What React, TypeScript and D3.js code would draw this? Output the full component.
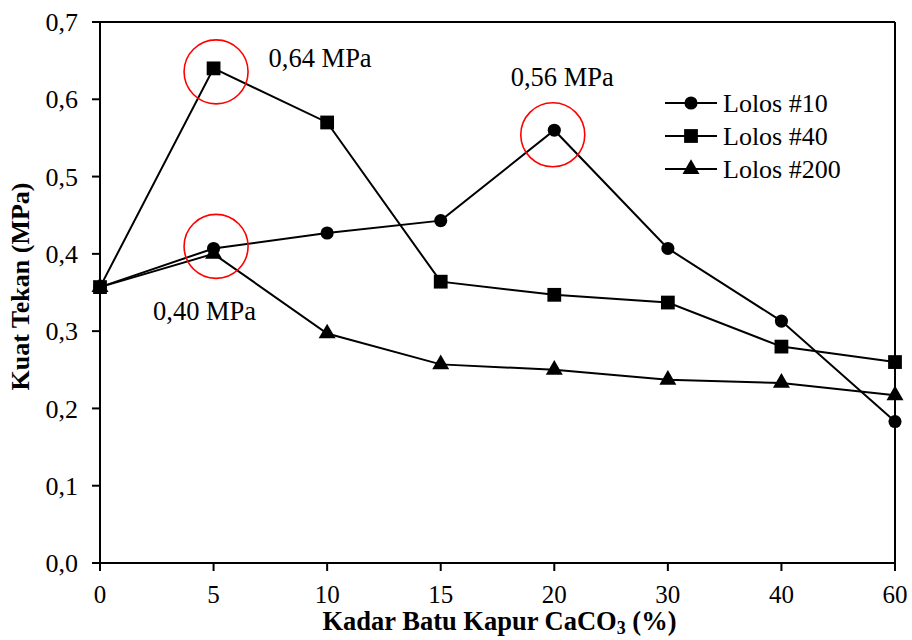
import React, { useEffect } from "react";
import * as d3 from "d3";

// kadar batu kapur (%) - categorical axis, evenly spaced
const categories = ["0", "5", "10", "15", "20", "30", "40", "60"];
const lolos10 = [0.357, 0.407, 0.427, 0.443, 0.56, 0.407, 0.313, 0.183];
const lolos40 = [0.357, 0.64, 0.57, 0.364, 0.347, 0.337, 0.28, 0.26];
const lolos200 = [0.357, 0.4, 0.297, 0.257, 0.25, 0.237, 0.233, 0.217];
const yTicks = [0, 0.1, 0.2, 0.3, 0.4, 0.5, 0.6, 0.7];
const seriesNames = ["Lolos #10", "Lolos #40", "Lolos #200"];
// highlighted peaks: category, value, label
const peakCats = ["5", "20", "5"];
const peakVals = [0.64, 0.56, 0.4];
const peakLabels = ["0,64 MPa", "0,56 MPa", "0,40 MPa"];

const W = 912, H = 640;
const margin = { top: 22, right: 17, bottom: 77, left: 100 };
const font = "'Liberation Serif', 'Times New Roman', serif";

export default function App() {
  useEffect(() => {
    document.body.style.margin = "0";
  }, []);

  const innerW = W - margin.left - margin.right;
  const innerH = H - margin.top - margin.bottom;
  const x = d3.scalePoint().domain(categories).range([0, innerW]).padding(0);
  const y = d3.scaleLinear().domain([0, 0.7]).range([innerH, 0]);

  const series = [
    { name: seriesNames[0], vals: lolos10, sym: d3.symbolCircle, size: 135 },
    { name: seriesNames[1], vals: lolos40, sym: d3.symbolSquare, size: 190 },
    { name: seriesNames[2], vals: lolos200, sym: d3.symbolTriangle, size: 125 },
  ];

  const line = d3.line<number>()
    .x((d, i) => x(categories[i]) as number)
    .y((d) => y(d));

  // offsets of the labels / circles from the highlighted point
  const labelOff = [[55, -1, "start"], [8, -44, "middle"], [-9, 66, "middle"]];
  const ringOff = [[2.5, 3.5], [-1.5, 4.5], [2.5, -7.5]];

  return (
    <svg width={W} height={H} style={{ display: "block", background: "#fff" }} fontFamily={font}>
      <g transform={`translate(${margin.left},${margin.top})`}>
        {/* frame */}
        <line x1={0} x2={innerW} y1={0} y2={0} stroke="#000" strokeWidth={2} />
        <line x1={innerW} x2={innerW} y1={0} y2={innerH} stroke="#000" strokeWidth={2} />
        <line x1={0} x2={0} y1={0} y2={innerH} stroke="#000" strokeWidth={2} />
        <line x1={0} x2={innerW} y1={innerH} y2={innerH} stroke="#000" strokeWidth={2} />

        {/* y axis */}
        {yTicks.map((t) => (
          <g key={t} transform={`translate(0,${y(t)})`}>
            <line x1={-8} x2={0} stroke="#000" strokeWidth={2} />
            <text x={-22} dy="0.35em" textAnchor="end" fontSize={26}>
              {t.toFixed(1).replace(".", ",")}
            </text>
          </g>
        ))}

        {/* x axis */}
        {categories.map((c) => (
          <g key={c} transform={`translate(${x(c)},${innerH})`}>
            <line y1={0} y2={8} stroke="#000" strokeWidth={2} />
            <text y={40} textAnchor="middle" fontSize={25}>{c}</text>
          </g>
        ))}

        {/* series */}
        {series.map((s) => (
          <g key={s.name}>
            <path d={line(s.vals) as string} fill="none" stroke="#000" strokeWidth={2} />
            {s.vals.map((v, i) => (
              <path key={i}
                transform={`translate(${x(categories[i])},${y(v)})`}
                d={d3.symbol(s.sym, s.size)() as string}
                fill="#000" />
            ))}
          </g>
        ))}

        {/* peak highlights */}
        {peakVals.map((v, i) => {
          const px = x(peakCats[i]) as number;
          const py = y(v);
          return (
            <g key={i}>
              <circle cx={px + ringOff[i][0]} cy={py + ringOff[i][1]} r={32}
                fill="none" stroke="#ff0000" strokeWidth={1.6} />
              <text x={px + (labelOff[i][0] as number)} y={py + (labelOff[i][1] as number)}
                textAnchor={labelOff[i][2] as string} fontSize={26.5}>
                {peakLabels[i]}
              </text>
            </g>
          );
        })}

        {/* legend */}
        <g transform={`translate(${565},${81})`}>
          {series.map((s, i) => (
            <g key={s.name} transform={`translate(0,${i * 33})`}>
              <line x1={0} x2={52} stroke="#000" strokeWidth={2} />
              <path transform="translate(26,0)" d={d3.symbol(s.sym, s.size)() as string} fill="#000" />
              <text x={58} dy="0.35em" fontSize={26}>{s.name}</text>
            </g>
          ))}
        </g>

        {/* axis titles */}
        <text x={innerW / 2 + 2} y={innerH + 67} textAnchor="middle" fontSize={26.5} fontWeight="bold">
          Kadar Batu Kapur CaCO<tspan dy={4} fontSize={18}>3</tspan><tspan dy={-4}> (%)</tspan>
        </text>
        <text transform={`translate(${-71},${innerH / 2 - 6}) rotate(-90)`} textAnchor="middle"
          fontSize={26} fontWeight="bold">
          Kuat Tekan (MPa)
        </text>
      </g>
    </svg>
  );
}
